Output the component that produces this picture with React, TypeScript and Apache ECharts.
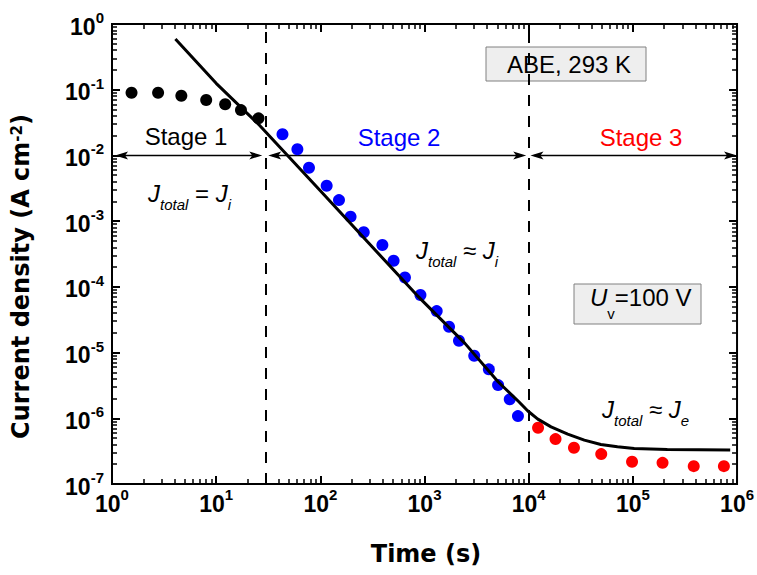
import React, { useEffect, useRef } from "react";
import * as echarts from "echarts";

// ---- data ----
const stage1Time = [1.54, 2.77, 4.63, 8.02, 12.2, 17.3, 25.5];
const stage1Current = [0.09, 0.09, 0.081, 0.0697, 0.06, 0.049, 0.0367];

const stage2Time = [43.3, 60.2, 77.8, 115, 151, 195, 261, 394, 505, 649, 914, 1309, 1719, 2142, 3000, 4143, 5082, 6577, 7889];
const stage2Current = [2.1e-2, 1.24e-2, 6.5e-3, 3.46e-3, 2.09e-3, 1.17e-3, 6.76e-4, 4.33e-4, 2.49e-4, 1.39e-4, 7.5e-5, 4.28e-5, 2.47e-5, 1.51e-5, 8.94e-6, 5.55e-6, 3.2e-6, 1.94e-6, 1.08e-6];

const stage3Time = [12300, 18100, 27200, 49700, 98200, 192700, 384000, 748000];
const stage3Current = [7.17e-7, 4.82e-7, 3.56e-7, 2.85e-7, 2.18e-7, 2.1e-7, 1.87e-7, 1.87e-7];

const fitTime = [4.06, 10, 25.9, 100, 843, 2443, 5080, 8000, 9820, 12240, 16400, 23700, 34200, 49300, 71100, 103000, 214000, 860000];
const fitCurrent = [0.59, 0.125, 0.029, 2.9e-3, 7.5e-5, 1.38e-5, 3.6e-6, 1.8e-6, 1.29e-6, 9.7e-7, 7.4e-7, 5.75e-7, 4.66e-7, 4.0e-7, 3.68e-7, 3.48e-7, 3.36e-7, 3.28e-7];

const xTickExponents = ["0", "1", "2", "3", "4", "5", "6"];
const yTickExponents = ["-7", "-6", "-5", "-4", "-3", "-2", "-1", "0"];

const stageBoundaries = [30, 10000];
const arrowLevel = 0.01;
const stageArrows = [
  [1.07, 27.7],
  [31.6, 9470],
  [10400, 1e6],
];

const X_MIN = 1, X_MAX = 1e6, Y_MIN = 1e-7, Y_MAX = 1;

const FONT = "'Liberation Sans', Arial, sans-serif";
const TITLE_FONT = "'DejaVu Sans', sans-serif";

const pairs = (xs: number[], ys: number[]) => xs.map((x, i) => [x, ys[i]]);

function decadeValues(lo: number, hi: number, major: boolean) {
  const out: number[] = [];
  for (let e = lo; e <= hi; e++) {
    if (major) {
      out.push(Math.pow(10, e));
    } else if (e < hi) {
      for (let m = 2; m <= 9; m++) out.push(m * Math.pow(10, e));
    }
  }
  return out;
}

const expLabel = (v: number, list: string[], lo: number) => {
  const e = Math.round(Math.log10(v));
  return list[e - lo] ?? String(e);
};

const tickRich = {
  b: { fontSize: 23, fontWeight: "bold", fontFamily: FONT, lineHeight: 28, color: "#000", verticalAlign: "bottom" },
  s: { fontSize: 15, fontWeight: "bold", fontFamily: FONT, lineHeight: 15, color: "#000", verticalAlign: "top" },
};

function makeAxis(kind: "x" | "y", position: string, major: boolean, labels: boolean) {
  const [lo, hi] = kind === "x" ? [0, 6] : [-7, 0];
  const values = decadeValues(lo, hi, major);
  const ax: any = {
    type: "log",
    logBase: 10,
    min: kind === "x" ? X_MIN : Y_MIN,
    max: kind === "x" ? X_MAX : Y_MAX,
    position,
    axisLine: { show: false },
    splitLine: { show: false },
    axisTick: {
      show: true,
      inside: true,
      length: major ? 8 : 5,
      lineStyle: { color: "#000", width: major ? 2 : 1.5 },
      customValues: values,
    },
    axisLabel: { show: false },
  };
  if (labels) {
    ax.axisLabel = {
      show: true,
      margin: kind === "x" ? 3 : 8,
      customValues: values,
      formatter: (v: number) =>
        kind === "x"
          ? `{b|10}{s|${expLabel(v, xTickExponents, 0)}}`
          : `{b|10}{s|${expLabel(v, yTickExponents, -7)}}`,
      rich: tickRich,
    };
  }
  return ax;
}

export default function App() {
  const ref = useRef<HTMLDivElement>(null);
  useEffect(() => {
    const chart = echarts.init(ref.current!, null, { renderer: "svg" });

    const eqRich = {
      J: { fontSize: 24, fontStyle: "italic", fontFamily: FONT, lineHeight: 30, verticalAlign: "top", color: "#000" },
      sub: { fontSize: 15, fontStyle: "italic", fontFamily: FONT, lineHeight: 15, verticalAlign: "top", padding: [15.6, 0, 0, 0], color: "#000" },
      op: { fontSize: 24, fontFamily: FONT, lineHeight: 30, verticalAlign: "top", color: "#000" },
    };

    const baseGraphic: any[] = [
      {
        type: "text",
        x: 27,
        y: 276.5,
        rotation: Math.PI / 2,
        style: {
          text: "{t|Current density (A cm}{p|-2}{t|)}",
          align: "center",
          verticalAlign: "middle",
          rich: {
            t: { fontSize: 24, fontWeight: "bold", fontFamily: TITLE_FONT, lineHeight: 36, verticalAlign: "top", color: "#000" },
            p: { fontSize: 15, fontWeight: "bold", fontFamily: TITLE_FONT, lineHeight: 15, verticalAlign: "top", color: "#000" },
          },
        },
      },
      {
        type: "text",
        x: 426,
        y: 554,
        style: { text: "Time (s)", fontSize: 24, fontWeight: "bold", fontFamily: TITLE_FONT, fill: "#000", align: "center", verticalAlign: "middle" },
      },
      { type: "text", x: 186, y: 136.5, style: { text: "Stage 1", fontSize: 24, fontFamily: FONT, fill: "#000", align: "center", verticalAlign: "middle" } },
      { type: "text", x: 399, y: 137, style: { text: "Stage 2", fontSize: 24, fontFamily: FONT, fill: "#0000ff", align: "center", verticalAlign: "middle" } },
      { type: "text", x: 641, y: 137, style: { text: "Stage 3", fontSize: 24, fontFamily: FONT, fill: "#ff0000", align: "center", verticalAlign: "middle" } },
      { type: "rect", shape: { x: 486, y: 47, width: 160, height: 34 }, style: { fill: "#eeeeee", stroke: "#808080", lineWidth: 1 } },
      { type: "text", x: 569, y: 64.5, style: { text: "ABE, 293 K", fontSize: 24, fontFamily: FONT, fill: "#000", align: "center", verticalAlign: "middle" } },
      { type: "rect", shape: { x: 574, y: 284, width: 127, height: 40 }, style: { fill: "#eeeeee", stroke: "#808080", lineWidth: 1 } },
      {
        type: "text",
        x: 590,
        y: 285,
        style: {
          text: "{u|U}{v|v}{n|=100 V}",
          align: "left",
          verticalAlign: "top",
          rich: {
            u: { fontSize: 24, fontStyle: "italic", fontFamily: FONT, lineHeight: 30, verticalAlign: "top", color: "#000" },
            v: { fontSize: 15, fontFamily: FONT, lineHeight: 15, verticalAlign: "top", padding: [21, 0, 0, 0], color: "#000" },
            n: { fontSize: 24, fontFamily: FONT, lineHeight: 30, verticalAlign: "top", color: "#000" },
          },
        },
      },
      { type: "text", x: 148, y: 181, style: { text: "{J|J}{sub|total}{op| = }{J|J}{sub|i}", align: "left", verticalAlign: "top", rich: eqRich } },
      { type: "text", x: 416, y: 238.5, style: { text: "{J|J}{sub|total}{op| ≈ }{J|J}{sub|i}", align: "left", verticalAlign: "top", rich: eqRich } },
      { type: "text", x: 602, y: 397, style: { text: "{J|J}{sub|total}{op| ≈ }{J|J}{sub|e}", align: "left", verticalAlign: "top", rich: eqRich } },
    ];

    const option: any = {
      animation: false,
      backgroundColor: "#fff",
      grid: { left: 112, right: 17, top: 24, bottom: 91, show: true, borderColor: "#000", borderWidth: 2, backgroundColor: "transparent" },
      xAxis: [
        makeAxis("x", "bottom", true, true),
        makeAxis("x", "bottom", false, false),
        makeAxis("x", "top", true, false),
        makeAxis("x", "top", false, false),
      ],
      yAxis: [
        makeAxis("y", "left", true, true),
        makeAxis("y", "left", false, false),
        makeAxis("y", "right", true, false),
        makeAxis("y", "right", false, false),
      ],
      series: [
        {
          type: "line",
          data: pairs(fitTime, fitCurrent),
          showSymbol: false,
          smooth: false,
          lineStyle: { color: "#000", width: 3 },
          z: 4,
          silent: true,
          markLine: {
            silent: true,
            animation: false,
            label: { show: false },
            emphasis: { disabled: true },
            symbol: ["none", "none"],
            lineStyle: { color: "#000", width: 2, type: [11, 10] },
            data: stageBoundaries.map((b) => ({ xAxis: b })),
          },
        },
        { type: "scatter", data: pairs(stage1Time, stage1Current), symbolSize: 12, itemStyle: { color: "#000", opacity: 1 }, z: 3 },
        { type: "scatter", data: pairs(stage2Time, stage2Current), symbolSize: 12, itemStyle: { color: "#0000ff", opacity: 1 }, z: 3 },
        { type: "scatter", data: pairs(stage3Time, stage3Current), symbolSize: 12, itemStyle: { color: "#ff0000", opacity: 1 }, z: 3 },
      ],
    };

    chart.setOption(option);

    const px = (x: number, y: number) => chart.convertToPixel({ xAxisIndex: 0, yAxisIndex: 0 }, [x, y]) as number[];
    const extra: any[] = [];
    const headLen = 13, headHalf = 4, notch = 3;
    stageArrows.forEach(([a, b]) => {
      const p1 = px(a, arrowLevel);
      const p2 = px(b, arrowLevel);
      const y = p1[1];
      extra.push({ type: "line", silent: true, shape: { x1: p1[0] + 4, y1: y, x2: p2[0] - 4, y2: y }, style: { stroke: "#000", lineWidth: 1.5 } });
      extra.push({
        type: "polygon",
        silent: true,
        shape: { points: [[p1[0], y], [p1[0] + headLen, y - headHalf], [p1[0] + headLen - notch, y], [p1[0] + headLen, y + headHalf]] },
        style: { fill: "#000" },
      });
      extra.push({
        type: "polygon",
        silent: true,
        shape: { points: [[p2[0], y], [p2[0] - headLen, y - headHalf], [p2[0] - headLen + notch, y], [p2[0] - headLen, y + headHalf]] },
        style: { fill: "#000" },
      });
    });

    chart.setOption({ graphic: [...baseGraphic, ...extra] });
    return () => chart.dispose();
  }, []);

  return <div ref={ref} style={{ position: "fixed", left: 0, top: 0, width: 757, height: 575 }} />;
}
